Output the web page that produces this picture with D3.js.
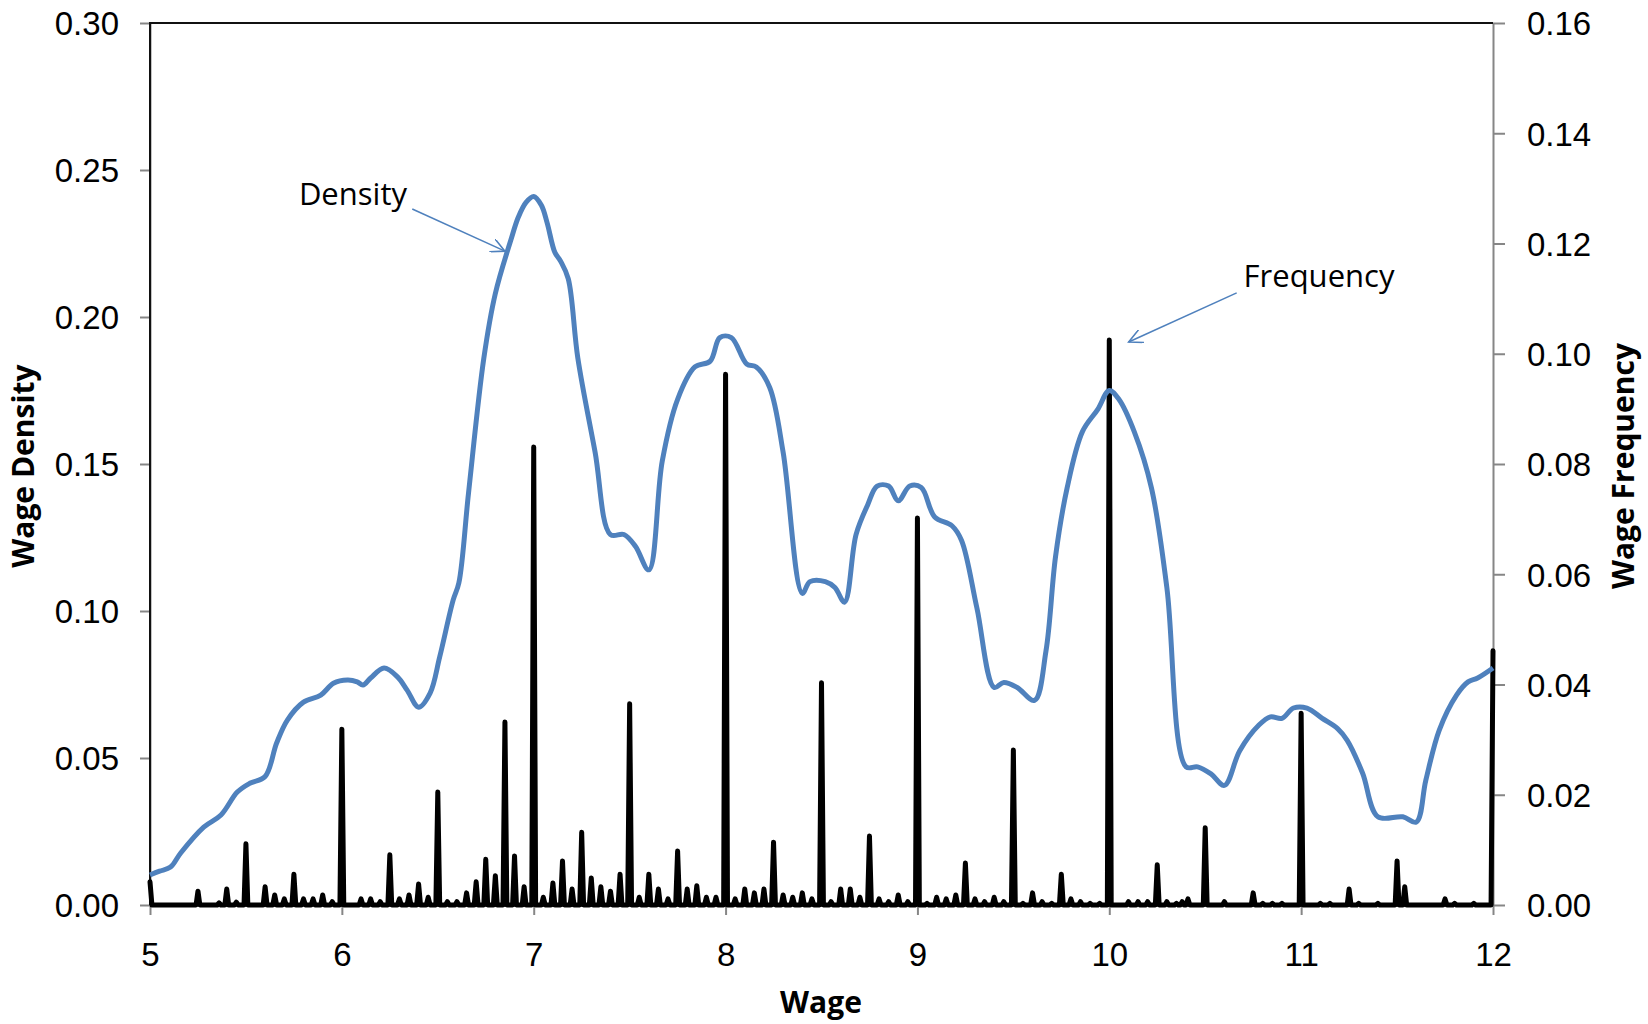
<!DOCTYPE html>
<html>
<head>
<meta charset="utf-8">
<script src="https://cdn.jsdelivr.net/npm/d3@7"></script>
<style>
	body { margin: 0; background: #fff; }
	svg { font-family: "Open Sans", sans-serif; }
	.axis text { font-size: 33px; fill: #000; }
	.axis line, .axis path { stroke: #868686; stroke-width: 2; }
	.axis-title { font-size: 30px; font-weight: bold; }
	.note { font-size: 31px; }
</style>
</head>
<body>
<svg id="chart"></svg>
<script>

// Kernel density of wages (left axis)
const densityWage = [5.00, 5.05, 5.107, 5.16, 5.28, 5.37, 5.455, 5.52, 5.60, 5.66, 5.716, 5.80, 5.89, 5.956,
	6.03, 6.08, 6.11, 6.15, 6.22, 6.29, 6.34, 6.40, 6.46, 6.51, 6.58, 6.61, 6.66, 6.74, 6.80, 6.88, 6.92, 6.96,
	7.00, 7.04, 7.07, 7.11, 7.14, 7.18, 7.23, 7.32, 7.40, 7.47, 7.53, 7.60, 7.67, 7.75, 7.84, 7.92, 7.97,
	8.03, 8.11, 8.16, 8.23, 8.30, 8.40, 8.44, 8.52, 8.57, 8.62, 8.68, 8.74, 8.79, 8.85, 8.90, 8.96,
	9.02, 9.09, 9.18, 9.23, 9.31, 9.40, 9.45, 9.52, 9.61, 9.67, 9.72, 9.78, 9.86, 9.94,
	10.00, 10.05, 10.13, 10.22, 10.30, 10.40, 10.46, 10.53, 10.60, 10.68, 10.78, 10.84, 10.90, 10.96,
	11.03, 11.11, 11.19, 11.24, 11.32, 11.40, 11.53, 11.60, 11.65, 11.72, 11.81, 11.87, 11.92, 12.00];
const densityValue = [0.0102, 0.0115, 0.0129, 0.0177, 0.0265, 0.0306, 0.0384, 0.0414, 0.0437, 0.0551, 0.0629, 0.0690, 0.0714, 0.0754,
	0.0765, 0.0759, 0.0748, 0.0772, 0.0806, 0.0776, 0.0731, 0.0673, 0.0721, 0.0844, 0.1037, 0.1096, 0.1400, 0.1860, 0.2080, 0.2260, 0.2340, 0.2390,
	0.2410, 0.2380, 0.2320, 0.2220, 0.2190, 0.2130, 0.1860, 0.1540, 0.1260, 0.1260, 0.1220, 0.1140, 0.1510, 0.1720, 0.1830, 0.1850, 0.1930,
	0.1930, 0.1840, 0.1830, 0.1760, 0.1540, 0.1060, 0.1100, 0.1100, 0.1080, 0.1030, 0.1260, 0.1360, 0.1425, 0.1425, 0.1375, 0.1425,
	0.1420, 0.1320, 0.1290, 0.1240, 0.1010, 0.0740, 0.0757, 0.0740, 0.0696, 0.0864, 0.1186, 0.1418, 0.1610, 0.1686,
	0.1750, 0.1720, 0.1610, 0.1418, 0.1080, 0.0470, 0.0470, 0.0446, 0.0407, 0.0525, 0.0612, 0.0640, 0.0635, 0.0670,
	0.0670, 0.0635, 0.0600, 0.0560, 0.0449, 0.0300, 0.0300, 0.0282, 0.0425, 0.0595, 0.0714, 0.0759, 0.0772, 0.0806];

// Observed wage frequencies (right axis), only the non-zero wages
const freqWage = [5.00, 5.25, 5.36, 5.40, 5.45, 5.50, 5.60, 5.65, 5.70, 5.75, 5.80, 5.85, 5.90, 5.95,
	6.00, 6.10, 6.15, 6.20, 6.25, 6.30, 6.35, 6.40, 6.45, 6.50, 6.55, 6.60, 6.65, 6.70, 6.75, 6.80, 6.85, 6.90, 6.95,
	7.00, 7.05, 7.10, 7.15, 7.20, 7.25, 7.30, 7.35, 7.40, 7.45, 7.50, 7.55, 7.60, 7.65, 7.70, 7.75, 7.80, 7.85, 7.90, 7.95,
	8.00, 8.05, 8.10, 8.15, 8.20, 8.25, 8.30, 8.35, 8.40, 8.45, 8.50, 8.55, 8.60, 8.65, 8.70, 8.75, 8.80, 8.85, 8.90, 8.95,
	9.00, 9.05, 9.10, 9.15, 9.20, 9.25, 9.30, 9.35, 9.40, 9.45, 9.50, 9.55, 9.60, 9.65, 9.70, 9.75, 9.80, 9.85, 9.90, 9.95,
	10.00, 10.10, 10.15, 10.20, 10.25, 10.30, 10.35, 10.38, 10.41, 10.50, 10.60, 10.75, 10.80, 10.85, 10.90,
	11.00, 11.10, 11.15, 11.25, 11.30, 11.40, 11.50, 11.54, 11.75, 11.80, 11.90, 12.00];
const freqValue = [0.0042, 0.0025, 0.0004, 0.0029, 0.0005, 0.0111, 0.0033, 0.0018, 0.0011, 0.0056, 0.0011, 0.0011, 0.0018, 0.0006,
	0.0319, 0.0011, 0.0011, 0.0006, 0.0091, 0.0011, 0.0018, 0.0038, 0.0014, 0.0205, 0.0006, 0.0006, 0.0022, 0.0042, 0.0083, 0.0053, 0.0332, 0.0089, 0.0033,
	0.0831, 0.0014, 0.0040, 0.0080, 0.0029, 0.0132, 0.0049, 0.0033, 0.0025, 0.0056, 0.0365, 0.0014, 0.0056, 0.0029, 0.0011, 0.0098, 0.0029, 0.0035, 0.0014, 0.0014,
	0.0963, 0.0011, 0.0029, 0.0022, 0.0029, 0.0114, 0.0018, 0.0014, 0.0022, 0.0011, 0.0403, 0.0006, 0.0029, 0.0029, 0.0014, 0.0125, 0.0011, 0.0006, 0.0018, 0.0006,
	0.0702, 0.0003, 0.0014, 0.0011, 0.0018, 0.0076, 0.0011, 0.0006, 0.0014, 0.0006, 0.0281, 0.0003, 0.0022, 0.0006, 0.0003, 0.0056, 0.0011, 0.0006, 0.0003, 0.0003,
	0.1025, 0.0006, 0.0006, 0.0006, 0.0073, 0.0006, 0.0003, 0.0006, 0.0011, 0.0140, 0.0006, 0.0022, 0.0003, 0.0003, 0.0003,
	0.0348, 0.0003, 0.0003, 0.0029, 0.0003, 0.0003, 0.0080, 0.0033, 0.0011, 0.0003, 0.0003, 0.0461];

const xTicks = [5, 6, 7, 8, 9, 10, 11, 12];
const densityTicks = [0, 0.05, 0.10, 0.15, 0.20, 0.25, 0.30];
const freqTicks = [0, 0.02, 0.04, 0.06, 0.08, 0.10, 0.12, 0.14, 0.16];

// Callout labels, placed in (wage, density) units
const noteText = ["Density", "Frequency"];
const noteAt = [[5.776, 0.238], [10.70, 0.2102]];
const noteArrowFrom = [[6.367, 0.2367], [10.664, 0.2082]];
const noteArrowTo = [[6.85, 0.2224], [10.101, 0.1915]];

class WageChart {

	constructor(_config) {
		this.config = {
			parentElement: _config.parentElement,
			containerWidth: 1648,
			containerHeight: 1024,
			margin: {top: 23, right: 155, bottom: 119, left: 150}
		}
		this.initVis();
	}

	initVis() {
		let vis = this;

		vis.width = vis.config.containerWidth - vis.config.margin.left - vis.config.margin.right;
		vis.height = vis.config.containerHeight - vis.config.margin.top - vis.config.margin.bottom;

		vis.xScale = d3.scaleLinear().domain([5, 12]).range([0, vis.width]);
		vis.yScale = d3.scaleLinear().domain([0, 0.30]).range([vis.height, 0]);
		vis.y2Scale = d3.scaleLinear().domain([0, 0.16]).range([vis.height, 0]);

		vis.svg = d3.select(vis.config.parentElement)
			.attr('width', vis.config.containerWidth)
			.attr('height', vis.config.containerHeight);

		vis.chart = vis.svg.append('g')
			.attr('transform', `translate(${vis.config.margin.left},${vis.config.margin.top})`);

		vis.chart.append('defs').append('clipPath')
				.attr('id', 'plot-mask')
			.append('rect')
				.attr('x', -4)
				.attr('y', 0)
				.attr('width', vis.width + 8)
				.attr('height', vis.height + 4);

		vis.chart.append('defs').append('marker')
				.attr('id', 'note-arrow')
				.attr('markerUnits', 'userSpaceOnUse')
				.attr('refX', 14)
				.attr('refY', 7)
				.attr('markerWidth', 16)
				.attr('markerHeight', 14)
				.attr('orient', 'auto')
			.append('path')
				.attr('d', 'M0,0 L14,7 L0,14')
				.attr('stroke', '#4f81bd')
				.attr('stroke-width', 1.6)
				.attr('fill', 'none');
	}

	renderVis() {
		let vis = this;

		// axes
		vis.chart.append('g')
			.attr('class', 'axis x-axis')
			.attr('transform', `translate(0,${vis.height})`)
			.call(d3.axisBottom(vis.xScale).tickValues(xTicks).tickSize(10).tickSizeOuter(0).tickPadding(28).tickFormat(d3.format('d')));

		vis.chart.append('g')
			.attr('class', 'axis y-axis')
			.call(d3.axisLeft(vis.yScale).tickValues(densityTicks).tickSize(10).tickSizeOuter(0).tickPadding(21).tickFormat(d3.format('.2f')))
			.selectAll('text').attr('dy', '0.36em');

		vis.chart.append('g')
			.attr('class', 'axis y2-axis')
			.attr('transform', `translate(${vis.width},0)`)
			.call(d3.axisRight(vis.y2Scale).tickValues(freqTicks).tickSize(12).tickSizeOuter(0).tickPadding(22).tickFormat(d3.format('.2f')))
			.selectAll('text').attr('dy', '0.36em');

		// dark frame on top and left of the plot area
		vis.chart.append('path')
			.attr('d', `M0,${vis.height} L0,0 L${vis.width},0`)
			.attr('fill', 'none')
			.attr('stroke', '#111')
			.attr('stroke-width', 2);

		const plot = vis.chart.append('g').attr('clip-path', 'url(#plot-mask)');

		// frequency: zero between observed wages, one cent either side of each
		let freqPoints = [];
		freqWage.forEach((w, i) => {
			if (w > 5) freqPoints.push([w - 0.01, 0]);
			freqPoints.push([w, freqValue[i]]);
			if (w < 12) freqPoints.push([w + 0.01, 0]);
		});
		freqPoints.sort((a, b) => a[0] - b[0]);

		const freqLine = d3.line()
			.x(d => vis.xScale(d[0]))
			.y(d => vis.y2Scale(d[1]));

		plot.append('path')
			.datum(freqPoints)
			.attr('d', freqLine)
			.attr('fill', 'none')
			.attr('stroke', '#000')
			.attr('stroke-width', 5)
			.attr('stroke-linejoin', 'round')
			.attr('stroke-linecap', 'round');

		const densityLine = d3.line()
			.x((d, i) => vis.xScale(densityWage[i]))
			.y(d => vis.yScale(d))
			.curve(d3.curveCatmullRom.alpha(0.5));

		plot.append('path')
			.datum(densityValue)
			.attr('d', densityLine)
			.attr('fill', 'none')
			.attr('stroke', '#4f81bd')
			.attr('stroke-width', 5)
			.attr('stroke-linejoin', 'round');

		// callouts
		vis.chart.selectAll('.note')
			.data(noteText)
			.join('text')
			.attr('class', 'note')
			.attr('x', (d, i) => vis.xScale(noteAt[i][0]))
			.attr('y', (d, i) => vis.yScale(noteAt[i][1]))
			.text(d => d);

		vis.chart.selectAll('.note-arrow')
			.data(noteText)
			.join('line')
			.attr('class', 'note-arrow')
			.attr('x1', (d, i) => vis.xScale(noteArrowFrom[i][0]))
			.attr('y1', (d, i) => vis.yScale(noteArrowFrom[i][1]))
			.attr('x2', (d, i) => vis.xScale(noteArrowTo[i][0]))
			.attr('y2', (d, i) => vis.yScale(noteArrowTo[i][1]))
			.attr('stroke', '#4f81bd')
			.attr('stroke-width', 1.6)
			.attr('marker-end', 'url(#note-arrow)');

		// axis titles
		vis.svg.append('text')
			.attr('class', 'axis-title')
			.attr('text-anchor', 'middle')
			.attr('x', vis.config.margin.left + vis.width / 2 - 0.5)
			.attr('y', 1013)
			.text('Wage');

		vis.svg.append('text')
			.attr('class', 'axis-title')
			.attr('text-anchor', 'middle')
			.attr('transform', `translate(34,${vis.config.margin.top + vis.height / 2 + 2}) rotate(-90)`)
			.text('Wage Density');

		vis.svg.append('text')
			.attr('class', 'axis-title')
			.attr('text-anchor', 'middle')
			.attr('transform', `translate(1634,${vis.config.margin.top + vis.height / 2 + 2}) rotate(-90)`)
			.text('Wage Frequency');
	}
}

const chart = new WageChart({parentElement: '#chart'});
chart.renderVis();
</script>
</body>
</html>
